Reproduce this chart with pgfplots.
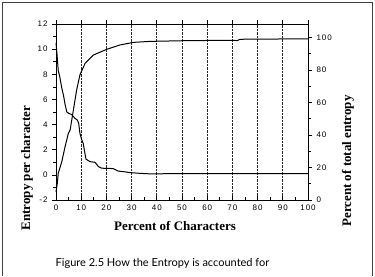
\documentclass[border=0pt]{standalone}
\usepackage{fontspec}
\setmainfont{Liberation Serif}
\newfontfamily\tickfont[LetterSpace=12]{Liberation Sans}
\newfontfamily\capfont{Lato}
\usepackage{pgfplots}
\pgfplotsset{compat=1.18}
\begin{document}
\begin{tikzpicture}[x=1pt,y=1pt]
\path[use as bounding box] (0,0) rectangle (375,276);
\draw[line width=0.8pt, black!75] (2,0) -- (2,273.5) -- (372.5,273.5) -- (372.5,0);
\begin{axis}[
  scale only axis, width=252pt, height=176pt,
  at={(56pt,76pt)}, anchor=south west,
  xmin=0, xmax=100, ymin=-2, ymax=12,
  axis x line*=bottom, axis y line*=left,
  axis line style={line width=0.8pt},
  xtick={0,10,...,100}, minor xtick={5,15,...,95},
  ytick={-2,0,...,12}, minor ytick={-1,1,...,11},
  xtick align=inside, ytick align=outside,
  major tick length=4pt, minor tick length=2.5pt,
  every tick/.style={black, line width=0.7pt},
  xmajorgrids, major x grid style={black!85, densely dotted, line width=0.7pt},
  /pgf/number format/assume math mode=true,
  ticklabel style={font=\tickfont\fontsize{8}{9}\selectfont},
  xticklabel style={yshift=-1pt},
  yticklabel style={xshift=-1pt},
  clip=false,
]
\addplot[black, line width=1pt] coordinates {
(0,10.5) (0.4,9.6) (0.9,8.3) (1.5,7.8) (2.3,6.9) (3.0,6.3) (3.6,5.6) (4.3,5.0)
(5.0,4.9) (6.2,4.8) (7.5,4.5) (8.5,4.35) (9.0,4.1) (9.5,3.3) (10.2,2.8)
(10.8,2.5) (11.4,1.8) (11.9,1.25) (13.5,1.05) (15.5,1.0) (16.8,0.66)
(18.1,0.53) (22.7,0.5) (24.7,0.3) (27,0.25) (29.4,0.18) (33.3,0.12)
(37.3,0.08) (50,0.1) (100,0.1)};
\end{axis}
\begin{axis}[
  scale only axis, width=252pt, height=176pt,
  at={(56pt,76pt)}, anchor=south west,
  xmin=0, xmax=100, ymin=0, ymax=108.3,
  axis x line*=top, axis y line*=right,
  axis line style={line width=0.8pt},
  xtick={0,10,...,100}, xticklabels={},
  ytick={0,20,...,100}, minor ytick={10,30,...,90},
  tick align=outside,
  major tick length=4pt, minor tick length=2.5pt,
  every tick/.style={black, line width=0.7pt},
  /pgf/number format/assume math mode=true,
  ticklabel style={font=\tickfont\fontsize{8}{9}\selectfont},
  yticklabel style={xshift=1pt},
  clip=false,
]
\addplot[black, line width=1pt] coordinates {
(0,5) (0.5,10) (0.9,16.5) (1.3,18.5) (2.3,23.6) (3.6,32.8) (4.9,41) (5.6,43)
(6.9,55.4) (8.2,67.7) (9.5,77) (11.5,84) (14.8,89.2) (20.1,92.7) (25.4,95.4)
(30.7,97) (37.3,97.6) (50,98) (69,98.3) (72,98.1) (73,98.9) (100,99.2)};
\end{axis}
\node[font=\bfseries\fontsize{13}{15}\selectfont] at (175,50) {Percent of Characters};
\node[font=\bfseries\fontsize{13}{15}\selectfont, rotate=90] at (27,108) {Entropy per character};
\node[font=\bfseries\fontsize{13}{15}\selectfont, rotate=90] at (348,115) {Percent of total entropy};
\node[font=\capfont\fontsize{11}{13}\selectfont] at (162.5,13) {Figure 2.5 How the Entropy is accounted for};
\end{tikzpicture}
\end{document}
